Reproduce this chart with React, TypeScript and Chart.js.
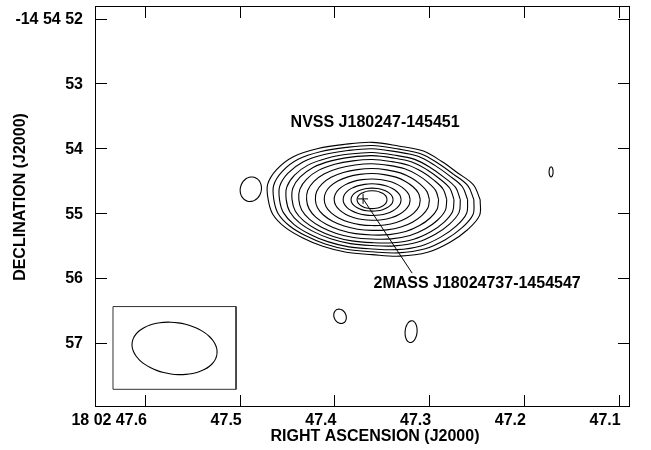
import React, { useEffect, useRef } from "react";
import { Chart, registerables } from "chart.js";

Chart.register(...registerables);

// Axis ticks (RA seconds of 18h02m, Dec arcsec of -14d54m)
const xTicks = [47.6, 47.5, 47.4, 47.3, 47.2, 47.1];
const xTickLabels = ["18 02 47.6", "47.5", "47.4", "47.3", "47.2", "47.1"];
const yTicks = [52, 53, 54, 55, 56, 57];
const yTickLabels = ["-14 54 52", "53", "54", "55", "56", "57"];
const xRange = [47.088, 47.6528];
const yRange = [51.805, 57.99];

// Main source (NVSS) contour levels, outer to inner
const srcCenter = [47.3603, 54.792];
const contourSemiRA = [0.1119, 0.1056, 0.0993, 0.0919, 0.0855, 0.0781, 0.0697, 0.0602, 0.0507, 0.0401, 0.0306, 0.0222, 0.0158];
const contourSemiDec = [0.893, 0.842, 0.792, 0.733, 0.683, 0.623, 0.556, 0.481, 0.404, 0.32, 0.245, 0.178, 0.138];
const contourShapeWeight = [1, 0.9, 0.8, 0.7, 0.6, 0.5, 0.4, 0.3, 0.22, 0.15, 0.1, 0.05, 0.0];
// radial factors of the outermost contour, every 15 deg counter-clockwise from west side (right)
const outerShape = [1.02, 0.99, 0.93, 0.93, 0.97, 0.96, 0.99, 0.99, 1.02, 1.05, 1.04, 1.02, 0.98, 0.97, 0.95, 0.93, 0.93, 0.94, 0.95, 1.01, 1.05, 1.04, 1.04, 1.05];

// Small isolated contours: RA, Dec, semi RA (s), semi Dec ("), tilt (deg)
const blobRA = [47.4883, 47.3941, 47.3191, 47.1713];
const blobDec = [54.631, 56.591, 56.828, 54.363];
const blobSemiRA = [0.0111, 0.0063, 0.0063, 0.0021];
const blobSemiDec = [0.191, 0.115, 0.168, 0.077];
const blobTilt = [15, -25, 5, 0];

// Beam (restoring beam) and its box
const beam = { ra: 47.5688, dec: 57.086, semiRA: 0.0452, semiDec: 0.398, tilt: 8 };
const beamBoxRA = [47.6338, 47.5039];
const beamBoxDec = [56.441, 57.717];

// 2MASS counterpart marker and annotation
const crossPos = [47.3698, 54.78];
const pointerEnd = [47.318, 55.925];
const labelNVSS = { text: "NVSS J180247-145451", ra: 47.3571, dec: 53.597 };
const label2MASS = { text: "2MASS J18024737-1454547", ra: 47.2494, dec: 56.093 };

const K = 14.49; // arcsec per RA second at this Dec

function ellipsePts(ra0: number, dec0: number, aSec: number, bAs: number, tiltDeg: number, shape?: number[], w = 0) {
  const n = shape ? shape.length : 36;
  const phi = (tiltDeg * Math.PI) / 180;
  const pts: { x: number; y: number }[] = [];
  for (let k = 0; k <= n; k++) {
    const t = (2 * Math.PI * k) / n;
    const f = shape ? 1 + (shape[k % n] - 1) * w : 1;
    const X = f * aSec * K * Math.cos(t);
    const Y = -f * bAs * Math.sin(t);
    const Xr = X * Math.cos(phi) - Y * Math.sin(phi);
    const Yr = X * Math.sin(phi) + Y * Math.cos(phi);
    pts.push({ x: ra0 - Xr / K, y: dec0 + Yr });
  }
  return pts;
}

const FONT = "bold 16px 'Liberation Sans', Arial, Helvetica, sans-serif";

const framePlugin = {
  id: "framePlugin",
  afterDraw(chart: any) {
    const { ctx, chartArea: a, scales } = chart;
    const xs = scales.x;
    const ys = scales.y;
    ctx.save();
    ctx.strokeStyle = "#000";
    ctx.lineWidth = 1;
    ctx.strokeRect(Math.round(a.left) + 0.5, Math.round(a.top) + 0.5, Math.round(a.right - a.left) - 1, Math.round(a.bottom - a.top) - 1);
    const tl = 12;
    ctx.beginPath();
    xTicks.forEach((v) => {
      const px = Math.round(xs.getPixelForValue(v)) + 0.5;
      ctx.moveTo(px, a.bottom);
      ctx.lineTo(px, a.bottom - tl);
      ctx.moveTo(px, a.top);
      ctx.lineTo(px, a.top + tl);
    });
    yTicks.forEach((v) => {
      const py = Math.round(ys.getPixelForValue(v)) + 0.5;
      ctx.moveTo(a.left, py);
      ctx.lineTo(a.left + tl, py);
      ctx.moveTo(a.right, py);
      ctx.lineTo(a.right - tl, py);
    });
    ctx.stroke();

    ctx.fillStyle = "#000";
    ctx.font = FONT;
    ctx.textAlign = "right";
    ctx.textBaseline = "middle";
    xTicks.forEach((v, i) => {
      ctx.fillText(xTickLabels[i], xs.getPixelForValue(v) + 2, a.bottom + 14);
    });
    yTicks.forEach((v, i) => {
      ctx.fillText(yTickLabels[i], a.left - 12, ys.getPixelForValue(v) + 1);
    });
    ctx.textAlign = "center";
    ctx.fillText("RIGHT ASCENSION (J2000)", 375, a.bottom + 30);
    ctx.save();
    ctx.translate(21, 197);
    ctx.rotate(-Math.PI / 2);
    ctx.fillText("DECLINATION (J2000)", 0, 0);
    ctx.restore();

    [labelNVSS, label2MASS].forEach((l) => {
      ctx.fillText(l.text, xs.getPixelForValue(l.ra), ys.getPixelForValue(l.dec));
    });
    ctx.restore();
  },
};

export default function App() {
  const ref = useRef<HTMLCanvasElement>(null);
  useEffect(() => {
    if (!ref.current) return;
    const lineDs = (data: any[], color = "#000", width = 1.1, tension = 0.35) => ({
      type: "scatter" as const,
      data,
      showLine: true,
      borderColor: color,
      borderWidth: width,
      pointRadius: 0,
      tension,
      fill: false,
    });
    const datasets: any[] = [];
    contourSemiRA.forEach((aS, i) => {
      datasets.push(lineDs(ellipsePts(srcCenter[0], srcCenter[1], aS, contourSemiDec[i], 0, outerShape, contourShapeWeight[i])));
    });
    blobRA.forEach((ra, i) => {
      datasets.push(lineDs(ellipsePts(ra, blobDec[i], blobSemiRA[i], blobSemiDec[i], blobTilt[i])));
    });
    datasets.push(lineDs(ellipsePts(beam.ra, beam.dec, beam.semiRA, beam.semiDec, beam.tilt)));
    datasets.push(
      lineDs(
        [
          { x: beamBoxRA[0], y: beamBoxDec[0] },
          { x: beamBoxRA[1], y: beamBoxDec[0] },
          { x: beamBoxRA[1], y: beamBoxDec[1] },
          { x: beamBoxRA[0], y: beamBoxDec[1] },
          { x: beamBoxRA[0], y: beamBoxDec[0] },
        ],
        "#333",
        1,
        0
      )
    );
    datasets.push(
      lineDs(
        [
          { x: crossPos[0], y: crossPos[1] },
          { x: pointerEnd[0], y: pointerEnd[1] },
        ],
        "#000",
        1,
        0
      )
    );
    datasets.push({
      type: "scatter",
      data: [{ x: crossPos[0], y: crossPos[1] }],
      pointStyle: "cross",
      pointRadius: 5,
      borderColor: "#000",
      borderWidth: 1,
      showLine: false,
    });

    const chart = new Chart(ref.current, {
      type: "scatter",
      data: { datasets },
      options: {
        animation: false,
        responsive: true,
        maintainAspectRatio: false,
        layout: { padding: { left: 95, right: 21, top: 3, bottom: 43 } },
        plugins: { legend: { display: false }, tooltip: { enabled: false } },
        events: [],
        scales: {
          x: { type: "linear", min: xRange[0], max: xRange[1], reverse: true, display: false },
          y: { type: "linear", min: yRange[0], max: yRange[1], reverse: true, display: false },
        },
      },
      plugins: [framePlugin],
    });
    return () => chart.destroy();
  }, []);
  return (
    <div style={{ position: "absolute", left: 0, top: 0, width: 651, height: 450, background: "#fff" }}>
      <canvas ref={ref} />
    </div>
  );
}
